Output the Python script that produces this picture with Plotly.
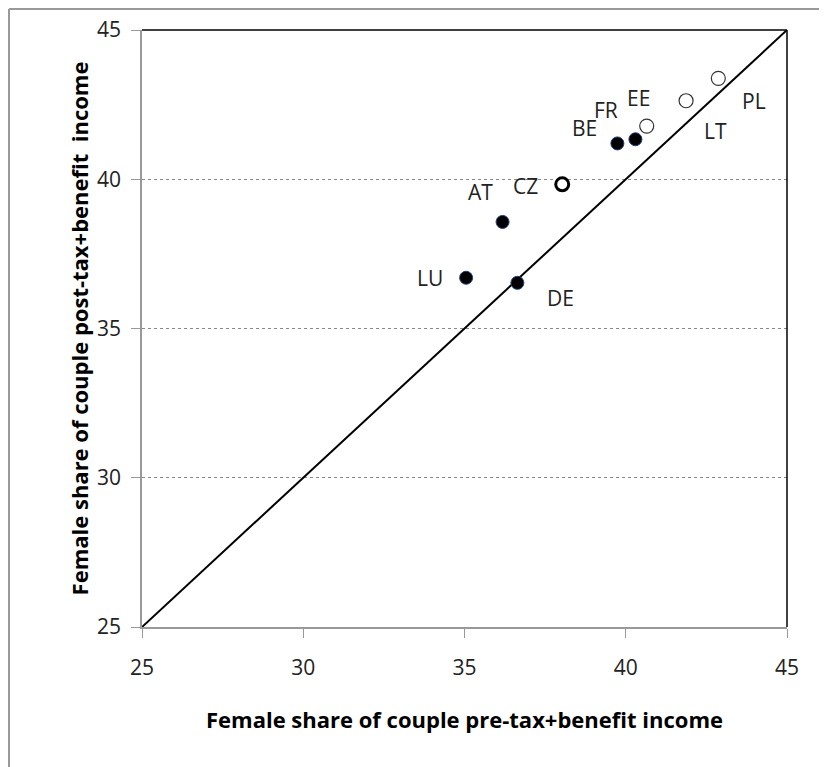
import plotly.graph_objects as go

# Data
countries = ["LU", "DE", "AT", "CZ", "BE", "FR", "EE", "LT", "PL"]
pre_tax = [35.05, 36.64, 36.18, 38.03, 39.74, 40.30, 40.65, 41.87, 42.87]
post_tax = [36.70, 36.53, 38.57, 39.83, 41.20, 41.34, 41.78, 42.63, 43.38]
group = ["filled", "filled", "filled", "bold", "filled", "filled", "open", "open", "open"]
# label offsets in pixels (styling)
label_dx = [-36, 43, -22, -37, -33, -29, -8, 29, 36]
label_dy = [0, -15, 30, -2, 15, 29, 28, -30, -23]

diag = [25, 45]
x_ticks = [25, 30, 35, 40, 45]
y_ticks = [25, 30, 35, 40, 45]

font_fam = "Open Sans, Noto Sans, DejaVu Sans, sans-serif"

# page body adds an 8px offset; compensate so the plot lands where the reference has it
W, H = 819, 759
L, R, T, B = 134, 40, 22, 140
PW, PH = W - L - R, H - T - B

fig = go.Figure()

fig.add_trace(go.Scatter(x=diag, y=diag, mode="lines",
                         line=dict(color="black", width=2), hoverinfo="skip",
                         showlegend=False))

styles = {
    "filled": dict(color="black", size=13, line=dict(color="#1F3D7A", width=1)),
    "open": dict(color="white", size=14, line=dict(color="#333333", width=1.2)),
    "bold": dict(color="white", size=13, line=dict(color="black", width=3)),
}
for g, st in styles.items():
    xs = [x for x, gg in zip(pre_tax, group) if gg == g]
    ys = [y for y, gg in zip(post_tax, group) if gg == g]
    fig.add_trace(go.Scatter(x=xs, y=ys, mode="markers", marker=st,
                             showlegend=False))

for c, x, y, dx, dy in zip(countries, pre_tax, post_tax, label_dx, label_dy):
    fig.add_annotation(x=x, y=y, text=c, showarrow=False, xshift=dx, yshift=dy,
                       font=dict(family=font_fam, size=21, color="#222222"))

# plot frame top and right (black)
fig.add_shape(type="line", xref="x domain", yref="y domain", x0=0, x1=1, y0=1, y1=1,
              line=dict(color="black", width=1.5), layer="above")
fig.add_shape(type="line", xref="x domain", yref="y domain", x0=1, x1=1, y0=0, y1=1,
              line=dict(color="black", width=1.5), layer="above")
# outer chart border (gray) on left and top
bx = (1 - L) / PW
by = (PH + T - 1) / PH
fig.add_shape(type="line", xref="paper", yref="paper",
              x0=bx, x1=bx, y0=-0.4, y1=by,
              line=dict(color="#999999", width=2), layer="above")
fig.add_shape(type="line", xref="paper", yref="paper",
              x0=bx, x1=1.2, y0=by, y1=by,
              line=dict(color="#999999", width=2), layer="above")

fig.update_layout(
    width=W, height=H,
    margin=dict(l=L, r=R, t=T, b=B, autoexpand=False),
    paper_bgcolor="white", plot_bgcolor="white",
    font=dict(family=font_fam, color="#222222"),
    xaxis=dict(range=[25, 45], tickvals=x_ticks, showgrid=False, zeroline=False,
               showline=True, linecolor="#999999", linewidth=1.5,
               ticks="outside", ticklen=9, tickcolor="#999999",
               tickfont=dict(size=21, color="#222222"), ticklabelstandoff=12,
               title=dict(text="<b>Female share of couple pre-tax+benefit income</b>",
                          font=dict(size=22, color="black"), standoff=33)),
    yaxis=dict(range=[25, 45], tickvals=y_ticks, showgrid=True, gridcolor="#888888",
               griddash="dot", gridwidth=1, zeroline=False,
               showline=True, linecolor="#999999", linewidth=1.5,
               ticks="outside", ticklen=9, tickcolor="#999999",
               tickfont=dict(size=21, color="#222222"), ticklabelstandoff=6,
               title=dict(text="<b>Female share of couple post-tax+benefit  income</b>",
                          font=dict(size=22, color="black"), standoff=2)),
)

fig.write_html("out.html")
